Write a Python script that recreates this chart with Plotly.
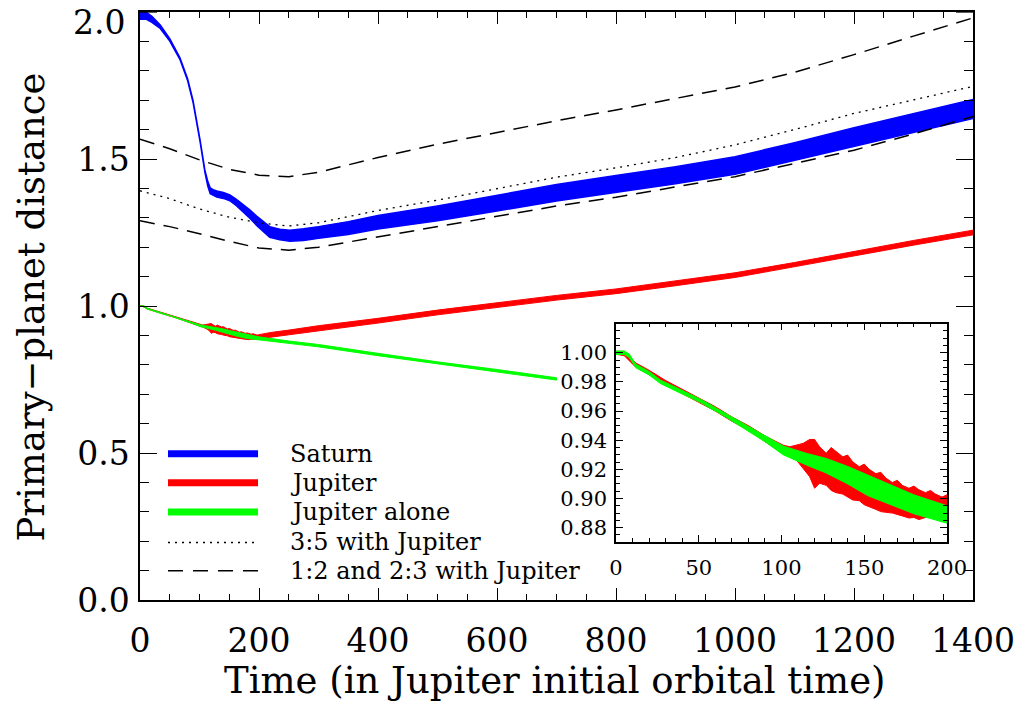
import plotly.graph_objects as go

# ---------------- data ----------------
# Saturn (blue band: lower / upper envelope of the oscillating distance)
saturn_t = [0, 10, 20, 34, 50, 67, 80, 89, 101, 109, 114, 118, 123, 129, 140, 151, 162, 173, 185, 196,
            207, 218, 235, 252, 275, 300, 350, 400, 500, 600, 700, 800, 900, 1000, 1100, 1200, 1300, 1400]
saturn_lo = [1.975, 1.976, 1.965, 1.944, 1.901, 1.839, 1.767, 1.694, 1.558, 1.455, 1.407, 1.382, 1.376, 1.371,
             1.366, 1.358, 1.341, 1.322, 1.298, 1.274, 1.253, 1.234, 1.225, 1.220, 1.223, 1.230, 1.243, 1.262,
             1.290, 1.323, 1.357, 1.386, 1.416, 1.448, 1.495, 1.544, 1.591, 1.638]
saturn_hi = [2.001, 2.000, 1.985, 1.956, 1.909, 1.845, 1.773, 1.700, 1.564, 1.463, 1.423, 1.402, 1.396, 1.391,
             1.386, 1.378, 1.363, 1.346, 1.326, 1.306, 1.287, 1.270, 1.261, 1.258, 1.263, 1.270, 1.287, 1.308,
             1.340, 1.377, 1.413, 1.444, 1.474, 1.508, 1.555, 1.606, 1.653, 1.702]

# Jupiter (red band)
jupiter_t = [0, 5, 12, 20, 30, 40, 50, 60, 70, 80, 90, 101, 105, 109, 113, 117, 120, 123, 127, 130, 133, 137,
             140, 143, 147, 150, 153, 157, 160, 163, 167, 170, 173, 177, 180, 183, 187, 190, 193, 197, 200,
             220, 250, 300, 400, 500, 600, 700, 800, 900, 1000, 1100, 1200, 1300, 1400]
jupiter_lo = [0.999, 0.998, 0.990, 0.985, 0.978, 0.972, 0.966, 0.960, 0.953, 0.947, 0.939, 0.931, 0.929, 0.9264,
              0.9207, 0.915, 0.907, 0.9105, 0.909, 0.9055, 0.904, 0.903, 0.901, 0.899, 0.8985, 0.8957, 0.8945,
              0.8925, 0.891, 0.8905, 0.890, 0.889, 0.888, 0.8866, 0.887, 0.8855, 0.887, 0.888, 0.8865, 0.8865,
              0.886, 0.894, 0.902, 0.917, 0.942, 0.970, 0.995, 1.020, 1.042, 1.069, 1.097, 1.132, 1.170, 1.207,
              1.242]
jupiter_hi = [1.001, 1.001, 0.993, 0.988, 0.981, 0.975, 0.969, 0.963, 0.956, 0.950, 0.943, 0.9366, 0.9355,
              0.9366, 0.9378, 0.9405, 0.9405, 0.9355, 0.931, 0.935, 0.932, 0.9286, 0.9298, 0.9252, 0.9218,
              0.9236, 0.920, 0.917, 0.918, 0.914, 0.911, 0.9125, 0.909, 0.907, 0.9085, 0.906, 0.904, 0.9055,
              0.903, 0.901, 0.9025, 0.910, 0.918, 0.933, 0.958, 0.986, 1.011, 1.036, 1.058, 1.085, 1.113, 1.148,
              1.186, 1.223, 1.258]

# Jupiter alone (green band)
alone_t = [0, 5, 8, 12, 20, 27, 40, 51, 65, 77, 90, 101, 115, 127, 140, 152, 165, 180, 200, 250, 300, 400,
           500, 600, 700]
alone_lo = [0.9988, 0.9988, 0.9968, 0.9898, 0.9848, 0.9788, 0.9718, 0.9658, 0.9568, 0.9485, 0.939, 0.930,
            0.923, 0.9175, 0.910, 0.902, 0.896, 0.8895, 0.883, 0.873, 0.861, 0.831, 0.802, 0.776, 0.748]
alone_hi = [1.0012, 1.0012, 0.9992, 0.9922, 0.9872, 0.9812, 0.9742, 0.9682, 0.9592, 0.9515, 0.943, 0.936,
            0.931, 0.9275, 0.922, 0.916, 0.910, 0.9025, 0.895, 0.881, 0.869, 0.839, 0.810, 0.784, 0.756]

# resonance locations with Jupiter
res_t = [0, 50, 100, 150, 200, 250, 300, 400, 500, 600, 700, 800, 900, 1000, 1100, 1200, 1300, 1400]
res_12 = [1.567, 1.535, 1.497, 1.465, 1.445, 1.440, 1.455, 1.505, 1.550, 1.590, 1.630, 1.667, 1.705, 1.745,
          1.795, 1.855, 1.918, 1.980]
res_35 = [1.392, 1.365, 1.330, 1.302, 1.283, 1.272, 1.283, 1.325, 1.360, 1.400, 1.438, 1.470, 1.505, 1.548,
          1.600, 1.655, 1.700, 1.747]
res_23 = [1.290, 1.270, 1.246, 1.220, 1.197, 1.190, 1.200, 1.235, 1.270, 1.305, 1.340, 1.370, 1.405, 1.440,
          1.485, 1.530, 1.585, 1.645]

legend_labels = ["Saturn", "Jupiter", "Jupiter alone", "3:5 with Jupiter", "1:2 and 2:3 with Jupiter"]

main_xticks = [0, 200, 400, 600, 800, 1000, 1200, 1400]
main_yticks = [0.0, 0.5, 1.0, 1.5, 2.0]
main_ytext = ["0.0", "0.5", "1.0", "1.5", "2.0"]
inset_xticks = [0, 50, 100, 150, 200]
inset_yticks = [0.88, 0.90, 0.92, 0.94, 0.96, 0.98, 1.00]

BLUE = "#0000ff"
RED = "#ff0000"
GREEN = "#00ff00"
FONT = "DejaVu Serif"

fig = go.Figure()


def band(t, lo, hi, color, xa, ya, w=1.0):
    return go.Scatter(x=list(t) + list(t)[::-1], y=list(hi) + list(lo)[::-1], mode="lines",
                      fill="toself", fillcolor=color, line=dict(color=color, width=w),
                      xaxis=xa, yaxis=ya, showlegend=False, hoverinfo="skip")


# main panel
fig.add_trace(band(saturn_t, saturn_lo, saturn_hi, BLUE, "x", "y", 1.5))
fig.add_trace(band(jupiter_t, jupiter_lo, jupiter_hi, RED, "x", "y"))
fig.add_trace(band(alone_t, alone_lo, alone_hi, GREEN, "x", "y"))
fig.add_trace(go.Scatter(x=res_t, y=res_35, mode="lines", line=dict(color="black", width=1.3, dash="2px,5px"),
                         showlegend=False))
for r in (res_12, res_23):
    fig.add_trace(go.Scatter(x=res_t, y=r, mode="lines", line=dict(color="black", width=1.5, dash="15px,9px"),
                             showlegend=False))

# inset panel
fig.add_trace(band(jupiter_t, jupiter_lo, jupiter_hi, RED, "x2", "y2"))
fig.add_trace(band(alone_t, alone_lo, alone_hi, GREEN, "x2", "y2"))

axis_common = dict(showline=True, linecolor="black", linewidth=1.5, mirror="allticks", ticks="inside",
                   tickcolor="black", showgrid=False, zeroline=False)

fig.update_layout(
    width=1029, height=701,
    margin=dict(l=140, r=56, t=10, b=101),
    paper_bgcolor="white", plot_bgcolor="white",
    font=dict(family=FONT, color="black"),
    xaxis=dict(range=[0, 1400], tickvals=main_xticks, ticklen=12, tickwidth=1.3,
               tickfont=dict(size=33), ticklabelstandoff=11,
               minor=dict(dtick=50, ticklen=6, ticks="inside", tickcolor="black", tickwidth=1.2),
               **axis_common),
    yaxis=dict(range=[0, 2.0], tickvals=main_yticks[:-1], ticktext=main_ytext[:-1], ticklen=17, tickwidth=1.3,
               tickfont=dict(size=33), ticklabelstandoff=2,
               minor=dict(dtick=0.1, ticklen=9, ticks="inside", tickcolor="black", tickwidth=1.2),
               **axis_common),
    xaxis2=dict(domain=[0.5714, 0.9688], anchor="y2", range=[0, 200], tickvals=inset_xticks, ticklen=7,
                tickwidth=1.2, tickfont=dict(size=21), ticklabelstandoff=6,
                minor=dict(dtick=10, ticklen=4, ticks="inside", tickcolor="black", tickwidth=1),
                **axis_common),
    yaxis2=dict(domain=[0.0983, 0.470], anchor="x2", range=[0.87, 1.02], tickvals=inset_yticks,
                tickformat=".2f", ticklen=7, tickwidth=1.2, tickfont=dict(size=21), ticklabelstandoff=3,
                minor=dict(dtick=0.005, ticklen=4, ticks="inside", tickcolor="black", tickwidth=1),
                **axis_common),
)

# top y label sits just below the frame, as in the original
fig.add_annotation(text=main_ytext[-1], xref="paper", yref="paper", x=-0.0156, y=0.9814,
                   xanchor="right", yanchor="middle", showarrow=False, font=dict(size=33, family=FONT))
# ticks at the top value (label drawn above)
fig.add_shape(type="line", xref="paper", yref="y", x0=0, x1=17 / 833, y0=main_yticks[-1], y1=main_yticks[-1],
              line=dict(color="black", width=1.3))
fig.add_shape(type="line", xref="paper", yref="y", x0=1 - 17 / 833, x1=1, y0=main_yticks[-1],
              y1=main_yticks[-1], line=dict(color="black", width=1.3))

# axis titles
fig.add_annotation(text="Time (in Jupiter initial orbital time)", xref="paper", yref="paper",
                   x=0.4976, y=-0.137, xanchor="center", yanchor="middle", showarrow=False,
                   font=dict(size=37, family=FONT))
fig.add_annotation(text="Primary\u2212planet distance", xref="paper", yref="paper",
                   x=-0.1297, y=0.499, xanchor="center", yanchor="middle", textangle=-90, showarrow=False,
                   font=dict(size=37, family=FONT))

# manual legend
leg_y = [0.2486, 0.1995, 0.1497, 0.0978, 0.0497]
leg_styles = [dict(color=BLUE, width=7), dict(color=RED, width=7), dict(color=GREEN, width=7),
              dict(color="black", width=1.3, dash="2px,5px"), dict(color="black", width=1.5, dash="15px,10px")]
for yy, lab, st in zip(leg_y, legend_labels, leg_styles):
    fig.add_shape(type="line", xref="paper", yref="paper", x0=0.0336, x1=0.1417, y0=yy, y1=yy, line=st)
    fig.add_annotation(text=lab, xref="paper", yref="paper", x=0.1777, y=yy, xanchor="left",
                       yanchor="middle", showarrow=False, font=dict(size=24, family=FONT))

fig.write_html("out.html")
